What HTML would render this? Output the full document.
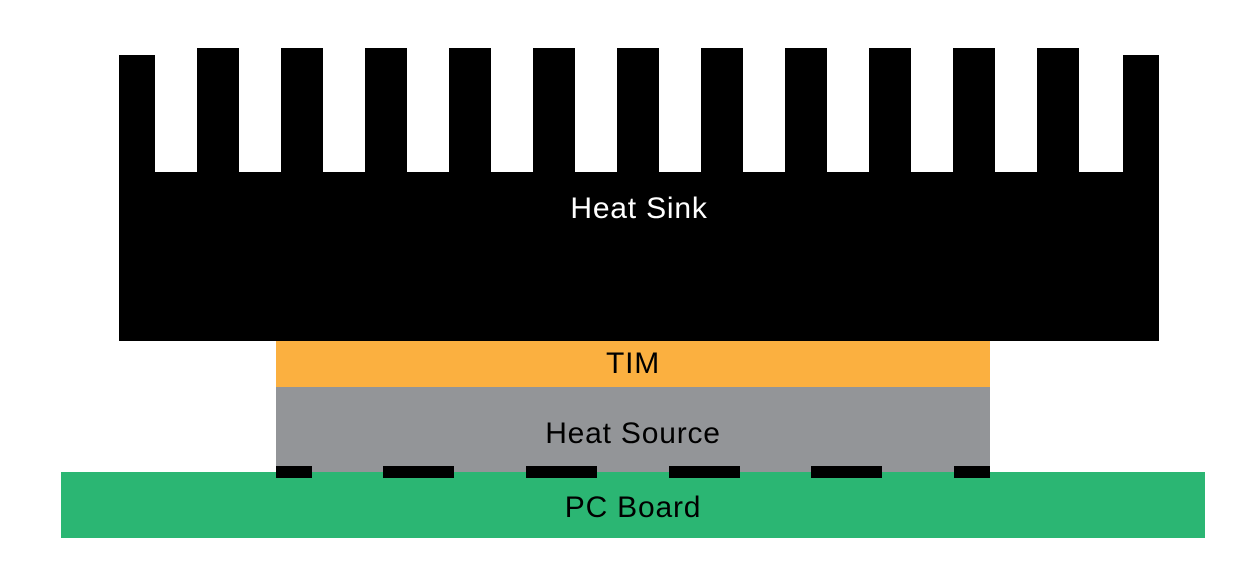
<!DOCTYPE html>
<html><head><style>
body{margin:0;width:1259px;height:568px;background:#fff;position:relative;overflow:hidden;font-family:"Liberation Sans",sans-serif}
div{position:absolute}
.t{text-align:center;font-size:30px;line-height:1;letter-spacing:0.8px}
</style></head><body>
<svg width="1259" height="568" style="position:absolute;left:0;top:0">
<rect x="119" y="172" width="1040" height="169" fill="#000"/>
<rect x="119" y="55" width="36" height="118" fill="#000"/>
<rect x="1123" y="55" width="36" height="118" fill="#000"/>
<g fill="#000">
<rect x="197" y="48" width="42" height="125"/><rect x="281" y="48" width="42" height="125"/>
<rect x="365" y="48" width="42" height="125"/><rect x="449" y="48" width="42" height="125"/>
<rect x="533" y="48" width="42" height="125"/><rect x="617" y="48" width="42" height="125"/>
<rect x="701" y="48" width="42" height="125"/><rect x="785" y="48" width="42" height="125"/>
<rect x="869" y="48" width="42" height="125"/><rect x="953" y="48" width="42" height="125"/>
<rect x="1037" y="48" width="42" height="125"/>
</g>
<rect x="276" y="341" width="714" height="46" fill="#fbb040"/>
<rect x="276" y="387" width="714" height="85" fill="#939598"/>
<rect x="61" y="472" width="1144" height="66" fill="#2bb673"/>
<g fill="#000">
<rect x="276" y="466" width="36" height="12"/><rect x="383" y="466" width="71" height="12"/>
<rect x="526" y="466" width="71" height="12"/><rect x="669" y="466" width="71" height="12"/>
<rect x="811" y="466" width="71" height="12"/><rect x="954" y="466" width="36" height="12"/>
</g>
</svg>
<div class="t" style="left:119px;width:1040px;top:194px;color:#fff">Heat Sink</div>
<div class="t" style="left:276px;width:714px;top:349px;color:#000">TIM</div>
<div class="t" style="left:276px;width:714px;top:419px;color:#000">Heat Source</div>
<div class="t" style="left:61px;width:1144px;top:493px;color:#000">PC Board</div>
</body></html>
